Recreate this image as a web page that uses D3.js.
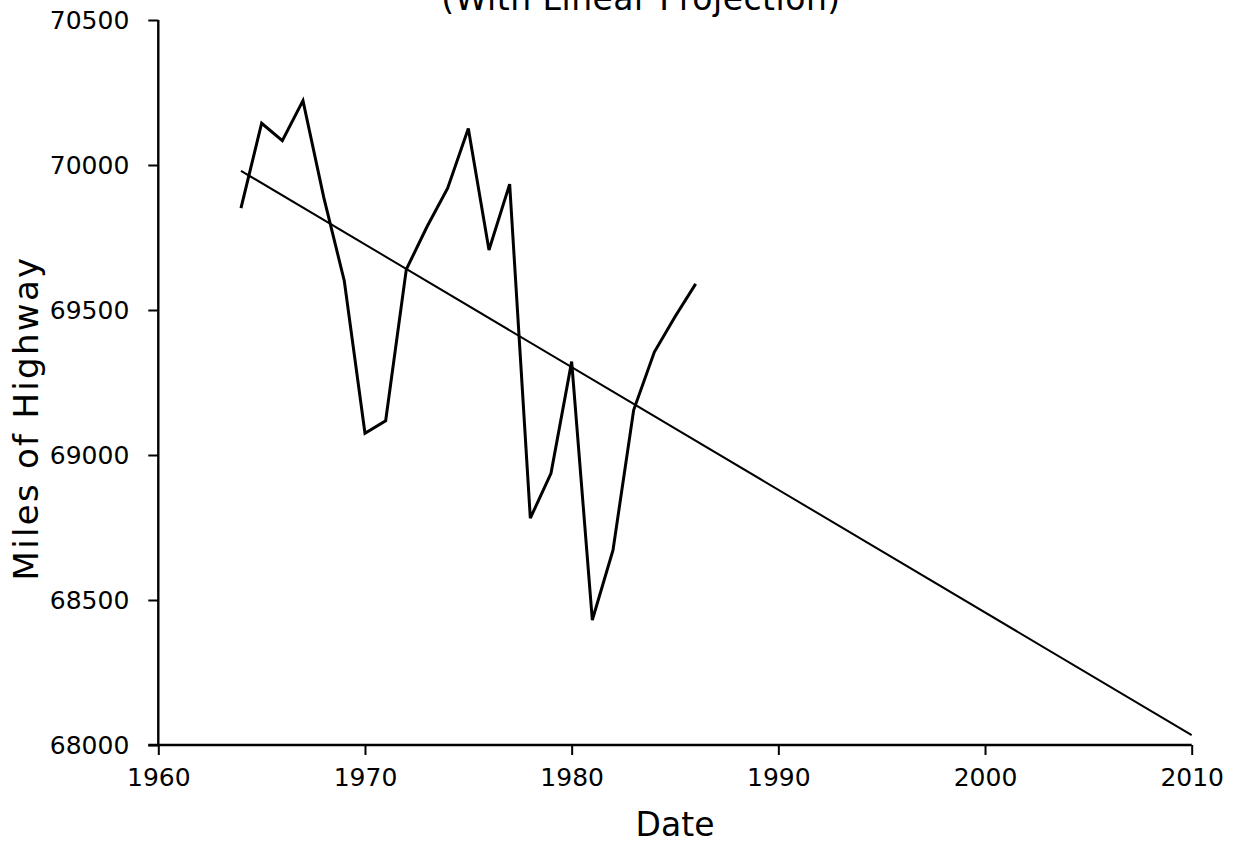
<!DOCTYPE html>
<html>
<head>
<meta charset="utf-8">
<script src="https://cdn.jsdelivr.net/npm/d3@7"></script>
<style>
  html, body { margin: 0; padding: 0; background: #fff; }
  svg { display: block; }
  text { font-family: "DejaVu Sans", sans-serif; fill: #000; }
</style>
</head>
<body>
<svg id="chart" width="1237" height="846"></svg>
<script>
// ---- data ----
const years = [1964, 1965, 1966, 1967, 1968, 1969, 1970, 1971, 1972, 1973, 1974, 1975,
               1976, 1977, 1978, 1979, 1980, 1981, 1982, 1983, 1984, 1985, 1986];
const miles = [69851, 70144, 70084, 70222, 69890, 69600, 69075, 69118, 69640, 69787, 69920, 70126,
               69707, 69934, 68782, 68937, 69322, 68431, 68672, 69155, 69355, 69477, 69590];
const trendYears = [1964, 2010];
const trendMiles = [69980, 68034];
const xTicks = [1960, 1970, 1980, 1990, 2000, 2010];
const yTicks = [68000, 68500, 69000, 69500, 70000, 70500];
const titleText = "(With Linear Projection)";
const xLabel = "Date";
const yLabel = "Miles of Highway";

// ---- chart ----
const svg = d3.select("#chart");
const x = d3.scaleLinear().domain([1960, 2010]).range([158.3, 1191.7]);
const y = d3.scaleLinear().domain([68000, 70500]).range([745, 20]);

// title (cut off at top, as in the reference)
svg.append("text")
  .attr("x", 641).attr("y", 10)
  .attr("text-anchor", "middle")
  .style("font-size", "33px")
  .style("letter-spacing", "0.5px")
  .text(titleText);

// y axis
const yAxis = svg.append("g")
  .attr("transform", `translate(${x(1960)},0)`)
  .call(d3.axisLeft(y).tickValues(yTicks).tickFormat(d3.format("d")).tickSize(10).tickPadding(19));
yAxis.attr("font-size", null).attr("font-family", null);
yAxis.select(".domain").attr("stroke", "#000").attr("stroke-width", 2.4)
  .attr("d", `M0,${y(70500)}V${y(68000)}`);
yAxis.selectAll(".tick line").attr("stroke", "#000").attr("stroke-width", 2);
yAxis.selectAll(".tick text")
  .style("font-size", "25px").style("font-family", "DejaVu Sans");

// x axis
const xAxis = svg.append("g")
  .attr("transform", `translate(0,${y(68000)})`)
  .call(d3.axisBottom(x).tickValues(xTicks).tickFormat(d3.format("d")).tickSize(10).tickPadding(13));
xAxis.attr("font-size", null).attr("font-family", null);
xAxis.select(".domain").attr("stroke", "#000").attr("stroke-width", 2.4)
  .attr("d", `M${x(1960) - 10},0H${x(2010)}`);
xAxis.selectAll(".tick line").attr("stroke", "#000").attr("stroke-width", 2);
xAxis.selectAll(".tick text")
  .style("font-size", "25px").style("font-family", "DejaVu Sans");

// axis titles
svg.append("text")
  .attr("x", x(1985)).attr("y", 836)
  .attr("text-anchor", "middle")
  .style("font-size", "33px")
  .text(xLabel);

svg.append("text")
  .attr("transform", `translate(38,${418}) rotate(-90)`)
  .attr("text-anchor", "middle")
  .style("font-size", "34px")
  .style("letter-spacing", "2.3px")
  .text(yLabel);

// lines
const line = d3.line().x(d => x(d[0])).y(d => y(d[1]));
svg.append("path")
  .datum(years.map((yr, i) => [yr, miles[i]]))
  .attr("d", line)
  .attr("fill", "none").attr("stroke", "#000").attr("stroke-width", 3)
  .attr("stroke-linejoin", "miter");

svg.append("path")
  .datum(trendYears.map((yr, i) => [yr, trendMiles[i]]))
  .attr("d", line)
  .attr("fill", "none").attr("stroke", "#000").attr("stroke-width", 2);
</script>
</body>
</html>
